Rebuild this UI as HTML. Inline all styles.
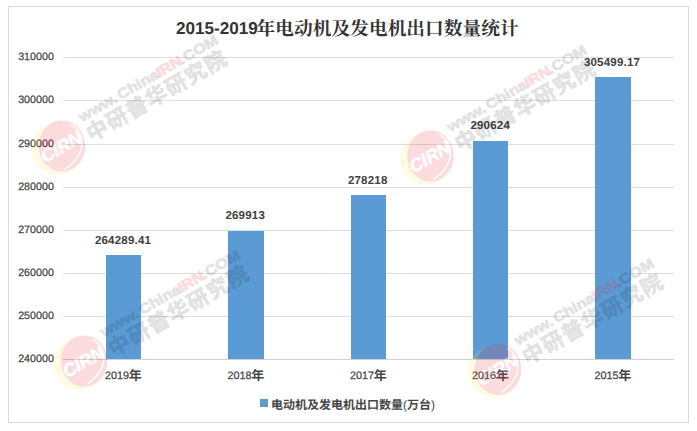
<!DOCTYPE html>
<html lang="zh-CN">
<head>
<meta charset="utf-8">
<title>2015-2019年电动机及发电机出口数量统计</title>
<style>
html,body{margin:0;padding:0;background:#fff}
#chart{position:relative;width:697px;height:431px;overflow:hidden;background:#fff;font-family:"Liberation Sans",sans-serif;text-rendering:geometricPrecision}
#chart div{position:absolute;white-space:nowrap}
.frame{left:8px;top:6px;width:679px;height:415px;border:1px solid #d9d9d9;box-sizing:content-box}
.g{left:63px;width:611px;height:1px;background:#dedede}
.ax{left:63px;width:611px;height:1px;background:#d0d0d0}
.bar{background:#5b9bd5}
.yl{left:0;width:54.1px;text-align:right;font-size:10.7px;line-height:12px;color:#474747;letter-spacing:.05px;-webkit-text-stroke:.25px #474747}
.dl{font-weight:bold;font-size:11.5px;line-height:12px;color:#404040;letter-spacing:.2px;transform:translateX(-50%)}
.xl{font-size:10.8px;line-height:12px;color:#474747;-webkit-text-stroke:.25px #474747}
.tt{font-weight:bold;font-size:17.1px;line-height:20px;color:#333333}
.lg{background:#5b9bd5}
.cj{position:static!important;color:transparent;-webkit-text-stroke:0 transparent}
svg{position:absolute;left:0;top:0}
.wm text{font-family:"Liberation Sans",sans-serif;font-weight:bold}

</style>
</head>
<body>
<div id="chart">
<div class="frame"></div>
<div class="g" style="top:57px"></div>
<div class="g" style="top:100px"></div>
<div class="g" style="top:144px"></div>
<div class="g" style="top:187px"></div>
<div class="g" style="top:230px"></div>
<div class="g" style="top:273px"></div>
<div class="g" style="top:316px"></div>
<div class="bar" style="left:106px;top:255px;width:35px;height:104px"></div>
<div class="bar" style="left:228px;top:231px;width:36px;height:128px"></div>
<div class="bar" style="left:351px;top:195px;width:35px;height:164px"></div>
<div class="bar" style="left:473px;top:141px;width:35px;height:218px"></div>
<div class="bar" style="left:595px;top:77px;width:36px;height:282px"></div>
<div class="ax" style="top:359px"></div>
<div class="yl" style="top:51.3px">310000</div>
<div class="yl" style="top:94.3px">300000</div>
<div class="yl" style="top:138.3px">290000</div>
<div class="yl" style="top:181.3px">280000</div>
<div class="yl" style="top:224.3px">270000</div>
<div class="yl" style="top:267.3px">260000</div>
<div class="yl" style="top:310.3px">250000</div>
<div class="yl" style="top:353.3px">240000</div>
<div class="dl" style="left:123.0px;top:234.9px">264289.41</div>
<div class="dl" style="left:245.2px;top:209.7px">269913</div>
<div class="dl" style="left:367.7px;top:174.7px">278218</div>
<div class="dl" style="left:490.2px;top:120.4px">290624</div>
<div class="dl" style="left:612.0px;top:56.7px">305499.17</div>
<div class="xl" style="left:105.0px;top:369.8px">2019<span class="cj">年</span></div>
<div class="xl" style="left:227.5px;top:369.8px">2018<span class="cj">年</span></div>
<div class="xl" style="left:350.0px;top:369.8px">2017<span class="cj">年</span></div>
<div class="xl" style="left:472.0px;top:369.8px">2016<span class="cj">年</span></div>
<div class="xl" style="left:594.5px;top:369.8px">2015<span class="cj">年</span></div>
<div class="tt" style="left:176px;top:18.9px">2015-2019<span class="cj">年电动机及发电机出口数量统计</span></div>
<div class="lg" style="left:260px;top:399px;width:8px;height:8px"></div>
<svg width="697" height="431" viewBox="0 0 697 431" role="img" aria-label="2015-2019年电动机及发电机出口数量统计">
<text x="256.6" y="35" font-size="18.72" font-weight="bold" fill="#333333" textLength="262.1" lengthAdjust="spacing" style="font-family:'Liberation Serif','Noto Serif CJK SC',serif">年电动机及发电机出口数量统计</text>
<g font-size="13" font-weight="bold" fill="#474747" text-anchor="middle" style="font-family:'Liberation Sans','Noto Sans CJK SC',sans-serif">
<text x="135.25" y="380.3">年</text>
<text x="257.75" y="380.3">年</text>
<text x="380.25" y="380.3">年</text>
<text x="502.25" y="380.3">年</text>
<text x="624.75" y="380.3">年</text>
</g>
<text x="271" y="408.5" font-size="12" fill="#474747" style="font-family:'Liberation Sans','Noto Sans CJK SC',sans-serif"><tspan font-weight="bold">电动机及发电机出口数量</tspan>(<tspan font-weight="bold">万台</tspan>)</text>
</svg>
<div class="xl" style="left:271px;top:397px;font-size:12px"><span class="cj">电动机及发电机出口数量(万台)</span></div>
<svg class="wm" width="697" height="431" viewBox="0 0 697 431" aria-hidden="true">
<g transform="translate(62.0,146.0)">
<g opacity=".16">
<circle cx="-4" cy="2.5" r="26" fill="#ffe94d"/>
<ellipse cx="0" cy="0" rx="23.3" ry="25.6" fill="#e8242e"/>
<path d="M9 -21.5 C24 -12 25 8 3 23.5" fill="none" stroke="#fff" stroke-width="1.5"/>
<text transform="rotate(-30)" x="-1" y="6.5" text-anchor="middle" font-size="18" font-weight="bold" font-style="italic" fill="#fff" stroke="#fff" stroke-width=".5">CIRN</text>
</g>
<g transform="rotate(-30)" opacity=".108">
<text transform="translate(29.3,-10.6) scale(1.15,1)" font-size="14.2" font-weight="bold" fill="#000" stroke="#000" stroke-width=".75" stroke-linejoin="round">www.<tspan dx="2">China</tspan><tspan x="100.7">.COM</tspan></text>
<text x="27.8 50.55 73.3 96.05 118.8 141.55 164.3" y="11.3" font-size="21.3" font-weight="bold" fill="#000" stroke="#000" stroke-width=".8" stroke-linejoin="round" style="font-family:'Liberation Sans','Noto Sans CJK SC',sans-serif">中研普华研究院</text>
</g>
<g transform="rotate(-30)" opacity=".16">
<text transform="translate(29.3,-10.6) scale(1.15,1)" x="77.39" font-size="14.2" font-weight="bold" fill="#e8242e" stroke="#e8242e" stroke-width=".75" stroke-linejoin="round">IRN</text>
</g>
</g>
<g transform="translate(430.5,156.0)">
<g opacity=".16">
<circle cx="-4" cy="2.5" r="26" fill="#ffe94d"/>
<ellipse cx="0" cy="0" rx="23.3" ry="25.6" fill="#e8242e"/>
<path d="M9 -21.5 C24 -12 25 8 3 23.5" fill="none" stroke="#fff" stroke-width="1.5"/>
<text transform="rotate(-30)" x="-1" y="6.5" text-anchor="middle" font-size="18" font-weight="bold" font-style="italic" fill="#fff" stroke="#fff" stroke-width=".5">CIRN</text>
</g>
<g transform="rotate(-30)" opacity=".108">
<text transform="translate(29.3,-10.6) scale(1.15,1)" font-size="14.2" font-weight="bold" fill="#000" stroke="#000" stroke-width=".75" stroke-linejoin="round">www.<tspan dx="2">China</tspan><tspan x="100.7">.COM</tspan></text>
<text x="27.8 50.55 73.3 96.05 118.8 141.55 164.3" y="11.3" font-size="21.3" font-weight="bold" fill="#000" stroke="#000" stroke-width=".8" stroke-linejoin="round" style="font-family:'Liberation Sans','Noto Sans CJK SC',sans-serif">中研普华研究院</text>
</g>
<g transform="rotate(-30)" opacity=".16">
<text transform="translate(29.3,-10.6) scale(1.15,1)" x="77.39" font-size="14.2" font-weight="bold" fill="#e8242e" stroke="#e8242e" stroke-width=".75" stroke-linejoin="round">IRN</text>
</g>
</g>
<g transform="translate(84.0,361.0)">
<g opacity=".16">
<circle cx="-4" cy="2.5" r="26" fill="#ffe94d"/>
<ellipse cx="0" cy="0" rx="23.3" ry="25.6" fill="#e8242e"/>
<path d="M9 -21.5 C24 -12 25 8 3 23.5" fill="none" stroke="#fff" stroke-width="1.5"/>
<text transform="rotate(-30)" x="-1" y="6.5" text-anchor="middle" font-size="18" font-weight="bold" font-style="italic" fill="#fff" stroke="#fff" stroke-width=".5">CIRN</text>
</g>
<g transform="rotate(-30)" opacity=".108">
<text transform="translate(29.3,-10.6) scale(1.15,1)" font-size="14.2" font-weight="bold" fill="#000" stroke="#000" stroke-width=".75" stroke-linejoin="round">www.<tspan dx="2">China</tspan><tspan x="100.7">.COM</tspan></text>
<text x="27.8 50.55 73.3 96.05 118.8 141.55 164.3" y="11.3" font-size="21.3" font-weight="bold" fill="#000" stroke="#000" stroke-width=".8" stroke-linejoin="round" style="font-family:'Liberation Sans','Noto Sans CJK SC',sans-serif">中研普华研究院</text>
</g>
<g transform="rotate(-30)" opacity=".16">
<text transform="translate(29.3,-10.6) scale(1.15,1)" x="77.39" font-size="14.2" font-weight="bold" fill="#e8242e" stroke="#e8242e" stroke-width=".75" stroke-linejoin="round">IRN</text>
</g>
</g>
<g transform="translate(498.0,369.3)">
<g opacity=".16">
<circle cx="-4" cy="2.5" r="26" fill="#ffe94d"/>
<ellipse cx="0" cy="0" rx="23.3" ry="25.6" fill="#e8242e"/>
<path d="M9 -21.5 C24 -12 25 8 3 23.5" fill="none" stroke="#fff" stroke-width="1.5"/>
<text transform="rotate(-30)" x="-1" y="6.5" text-anchor="middle" font-size="18" font-weight="bold" font-style="italic" fill="#fff" stroke="#fff" stroke-width=".5">CIRN</text>
</g>
<g transform="rotate(-30)" opacity=".108">
<text transform="translate(29.3,-10.6) scale(1.15,1)" font-size="14.2" font-weight="bold" fill="#000" stroke="#000" stroke-width=".75" stroke-linejoin="round">www.<tspan dx="2">China</tspan><tspan x="100.7">.COM</tspan></text>
<text x="27.8 50.55 73.3 96.05 118.8 141.55 164.3" y="11.3" font-size="21.3" font-weight="bold" fill="#000" stroke="#000" stroke-width=".8" stroke-linejoin="round" style="font-family:'Liberation Sans','Noto Sans CJK SC',sans-serif">中研普华研究院</text>
</g>
<g transform="rotate(-30)" opacity=".16">
<text transform="translate(29.3,-10.6) scale(1.15,1)" x="77.39" font-size="14.2" font-weight="bold" fill="#e8242e" stroke="#e8242e" stroke-width=".75" stroke-linejoin="round">IRN</text>
</g>
</g>
</svg>
</div>
</body>
</html>
